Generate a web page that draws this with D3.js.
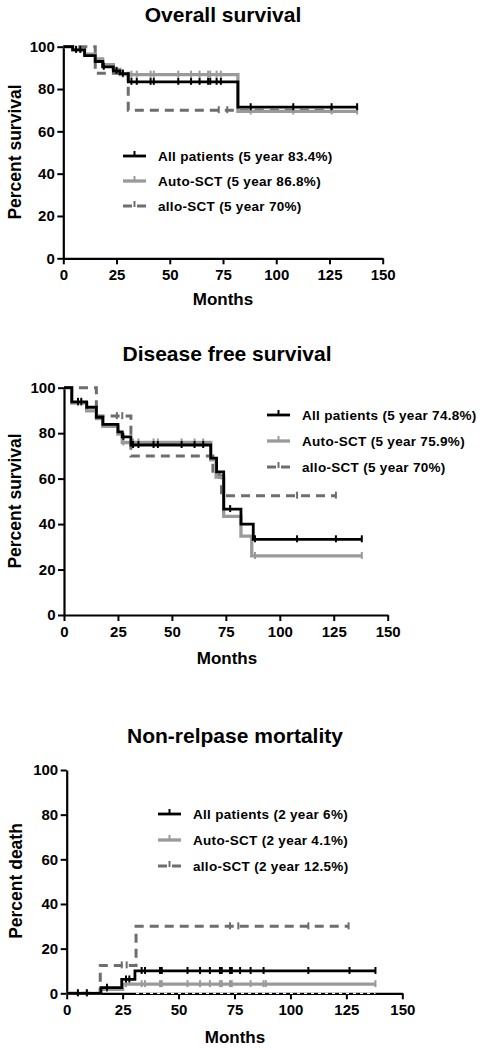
<!DOCTYPE html>
<html><head><meta charset="utf-8">
<script src="https://cdn.jsdelivr.net/npm/d3@7/dist/d3.min.js"></script>
<style>
html,body{margin:0;padding:0;background:#fff;}
text{font-family:"Liberation Sans",Arial,sans-serif;font-weight:bold;fill:#000;}
</style></head>
<body>
<svg id="c" width="482" height="1050"></svg>
<script>
// ---------- DATA ----------
const xTicks = [0, 25, 50, 75, 100, 125, 150];
const yTicks = [0, 20, 40, 60, 80, 100];
const titles = ["Overall survival", "Disease free survival", "Non-relpase mortality"];
const yLabels = ["Percent survival", "Percent survival", "Percent death"];
const xLabel = "Months";
const seriesNames = ["All patients", "Auto-SCT", "allo-SCT"];
const legendOS = ["All patients (5 year 83.4%)", "Auto-SCT (5 year 86.8%)", "allo-SCT (5 year 70%)"];
const legendDFS = ["All patients (5 year 74.8%)", "Auto-SCT (5 year 75.9%)", "allo-SCT (5 year 70%)"];
const legendNRM = ["All patients (2 year 6%)", "Auto-SCT (2 year 4.1%)", "allo-SCT (2 year 12.5%)"];

// Overall survival
const osAllT = [0, 4.4, 10, 15, 18.5, 23.5, 26.6, 30.5, 82];
const osAllS = [100, 98.5, 95.8, 93, 90.5, 88.6, 87.3, 83.4, 71.4];
const osAllC = [6, 8, 19, 25, 28, 32, 34.5, 41, 42.5, 54, 60, 64, 68, 69, 72, 74, 88, 108, 126, 138];
const osAutoT = [0, 4.4, 10, 15, 18.5, 23.5, 26.6, 82];
const osAutoS = [100, 98.5, 96.5, 94.2, 91.5, 89.3, 86.8, 69.4];
const osAutoC = [6, 8, 19, 28, 32, 34.5, 41, 42.5, 54, 60, 64, 68, 69, 72, 74, 88, 108, 126, 138];
const osAlloT = [0, 15, 30.5];
const osAlloS = [100, 87.5, 70];
const osAlloC = [73, 77, 126];
const osEnds = [138, 138, 126];

// Disease free survival
const dfsAllT = [0, 3.6, 10.5, 15, 18, 25, 27, 31, 68, 70.7, 74, 82, 87.7];
const dfsAllS = [100, 93.8, 91.4, 87, 83.9, 80.6, 78.4, 74.8, 69, 63, 46.6, 40, 33.3];
const dfsAllC = [6.5, 8, 27.5, 32, 34.5, 41.5, 43.5, 54.5, 60.5, 64.5, 77, 88.5, 108, 126, 138];
const dfsAutoT = [0, 3.6, 10.5, 15, 18, 25, 27, 68, 70.5, 74, 82, 87];
const dfsAutoS = [100, 93.2, 89.8, 86.4, 83, 79.6, 75.9, 68.3, 60.7, 43.4, 34.7, 26];
const dfsAutoC = [6.5, 8, 27.5, 32, 34.5, 41.5, 43.5, 54.5, 60.5, 64.5, 88.5, 138];
const dfsAlloT = [0, 15, 31, 69, 73];
const dfsAlloS = [100, 87.5, 70, 61.3, 52.5];
const dfsAlloC = [24.5, 27, 72, 108, 126];
const dfsEnds = [138, 138, 126];

// Non-relapse mortality
const nrmAllT = [0, 15.3, 24.6, 30.5];
const nrmAllS = [0, 2.5, 6.2, 10];
const nrmAllC = [5, 9, 18, 26.5, 28, 33.5, 35, 41.7, 42.5, 54, 59.6, 64, 68.5, 69.3, 73, 73.8, 77.5, 82.2, 88, 108, 126.4, 138];
const nrmAutoT = [0, 15, 25];
const nrmAutoS = [0, 1.8, 4.1];
const nrmAutoC = [5, 9, 18, 26.5, 33.5, 35, 41.7, 42.5, 54, 59.6, 64, 68.5, 69.3, 73, 73.8, 82.2, 88, 89, 138];
const nrmAlloT = [0, 15, 31];
const nrmAlloS = [0, 12.5, 30];
const nrmAlloC = [24.6, 26.8, 73, 76.7, 108, 126];
const nrmEnds = [138, 138, 126];

// ---------- LAYOUT / STYLE ----------
const styles = [
  {stroke: "#000000", width: 2.8, dash: null},
  {stroke: "#9a9a9a", width: 3.3, dash: null},
  {stroke: "#6e6e6e", width: 3, dash: "9,6"}
];
const panels = [
  {title: titles[0], titleXY: [223, 22], yLab: yLabels[0], yLabXY: [21, 152], xLabXY: [223, 305],
   xr: [63.3, 382.7], yr: [258.3, 46.7], legend: legendOS, legX: 123, legY: [156, 181, 206],
   series: [[osAllT, osAllS, osAllC, osEnds[0]], [osAutoT, osAutoS, osAutoC, osEnds[1]], [osAlloT, osAlloS, osAlloC, osEnds[2]]]},
  {title: titles[1], titleXY: [227, 361], yLab: yLabels[1], yLabXY: [21, 501], xLabXY: [227, 664],
   xr: [64, 387.7], yr: [615, 387.7], legend: legendDFS, legX: 267, legY: [415, 441, 467],
   series: [[dfsAllT, dfsAllS, dfsAllC, dfsEnds[0]], [dfsAutoT, dfsAutoS, dfsAutoC, dfsEnds[1]], [dfsAlloT, dfsAlloS, dfsAlloC, dfsEnds[2]]]},
  {title: titles[2], titleXY: [235, 743], yLab: yLabels[2], yLabXY: [21.5, 881], xLabXY: [235, 1043],
   xr: [66.7, 402.3], yr: [993.3, 770], legend: legendNRM, legX: 158, legY: [814, 840, 866],
   series: [[nrmAllT, nrmAllS, nrmAllC, nrmEnds[0]], [nrmAutoT, nrmAutoS, nrmAutoC, nrmEnds[1]], [nrmAlloT, nrmAlloS, nrmAlloC, nrmEnds[2]]]}
];

const svg = d3.select("#c");

panels.forEach((p, pi) => {
  const x = d3.scaleLinear().domain([0, 150]).range(p.xr);
  const y = d3.scaleLinear().domain([0, 100]).range(p.yr);
  const g = svg.append("g");

  g.append("text").attr("x", p.titleXY[0]).attr("y", p.titleXY[1])
    .attr("text-anchor", "middle").style("font-size", "21px").text(p.title);
  g.append("text").attr("transform", `translate(${p.yLabXY[0]},${p.yLabXY[1]}) rotate(-90)`)
    .attr("text-anchor", "middle").style("font-size", "17.5px").text(p.yLab);
  g.append("text").attr("x", p.xLabXY[0]).attr("y", p.xLabXY[1])
    .attr("text-anchor", "middle").style("font-size", "17px").text(xLabel);

  const xa = g.append("g").attr("transform", `translate(0,${p.yr[0]})`)
    .call(d3.axisBottom(x).tickValues(xTicks).tickSize(6).tickPadding(5.5).tickSizeOuter(0));
  const ya = g.append("g").attr("transform", `translate(${p.xr[0]},0)`)
    .call(d3.axisLeft(y).tickValues(yTicks).tickSize(6).tickPadding(2.5).tickSizeOuter(0));
  [xa, ya].forEach(a => {
    a.select(".domain").attr("stroke", "#000").attr("stroke-width", 2.2);
    a.selectAll(".tick line").attr("stroke", "#000").attr("stroke-width", 2);
    a.selectAll(".tick text").style("font-size", "15px").style("font-family", '"Liberation Sans",Arial,sans-serif').style("font-weight", "bold").attr("fill", "#000");
  });

  const line = d3.line().x(d => x(d[0])).y(d => y(d[1])).curve(d3.curveStepAfter);
  [2, 1, 0].forEach(si => {
    const [T, S, C, end] = p.series[si];
    const st = styles[si];
    const pts = T.map((t, i) => [t, S[i]]);
    pts.push([end, S[S.length - 1]]);
    g.append("path").datum(pts).attr("d", line)
      .attr("fill", "none").attr("stroke", st.stroke).attr("stroke-width", st.width)
      .attr("stroke-dasharray", st.dash);
    const val = t => S[Math.max(0, d3.bisectRight(T, t) - 1)];
    g.selectAll(null).data(C).enter().append("line")
      .attr("x1", d => x(d)).attr("x2", d => x(d))
      .attr("y1", d => y(val(d)) - 4).attr("y2", d => y(val(d)) + 3)
      .attr("stroke", st.stroke).attr("stroke-width", 2);
  });

  if (pi === 2) {
    g.append("line").attr("x1", x(31)).attr("x2", x(138)).attr("y1", y(0)).attr("y2", y(0))
      .attr("stroke", "#fff").attr("stroke-width", 1.2).attr("stroke-dasharray", "3,4");
  }

  p.legend.forEach((lab, i) => {
    const st = styles[i];
    const ly = p.legY[i];
    const lx0 = p.legX, lx1 = p.legX + 23;
    g.append("line").attr("x1", lx0).attr("x2", lx1).attr("y1", ly).attr("y2", ly)
      .attr("stroke", st.stroke).attr("stroke-width", st.width)
      .attr("stroke-dasharray", st.dash ? "9,5" : null);
    g.append("line").attr("x1", (lx0 + lx1) / 2).attr("x2", (lx0 + lx1) / 2)
      .attr("y1", ly - 5).attr("y2", ly + 1).attr("stroke", st.stroke).attr("stroke-width", 2);
    g.append("text").attr("x", lx1 + 12).attr("y", ly + 5)
      .style("font-size", "13.5px").style("letter-spacing", "0.3px").text(lab);
  });
});
</script>
</body></html>
